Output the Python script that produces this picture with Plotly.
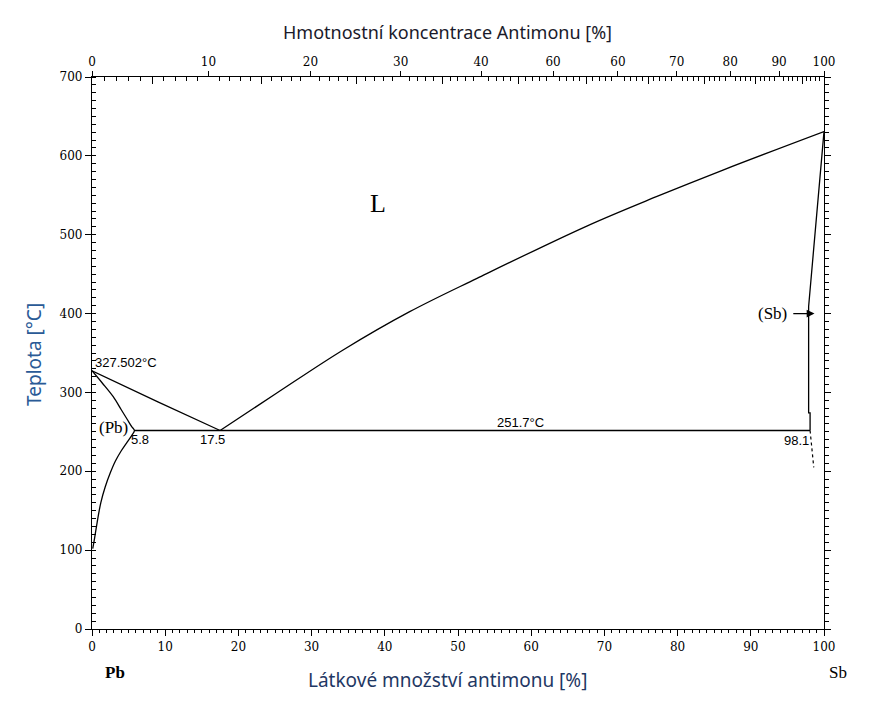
import plotly.graph_objects as go

# ---- data (x = mol % Sb, T = °C) ----
liq_left_x = [0, 9, 17.5]
liq_left_T = [327.502, 288, 251.7]

liq_right_x = [17.5, 25.2, 34.3, 43.4, 52.6, 67.6, 77.1, 86.2, 100]
liq_right_T = [251.7, 298.9, 353.8, 402.4, 444.7, 511, 548.2, 582, 630.755]

pb_solvus_x = [0, 1.4, 2.9, 4.0, 4.8, 5.4, 5.8, 5.4, 4.8, 4.0, 3.2, 2.5, 1.8, 1.2, 0.7, 0.35, 0.1]
pb_solvus_T = [327.502, 312, 294.6, 278, 266, 257, 251.7, 245, 237, 226, 213, 198, 180, 160, 135, 115, 102]

sb_solidus_x = [100, 97.9, 97.9, 98.1, 98.1]
sb_solidus_T = [630.755, 409, 274, 274, 251.7]

sb_solvus_x = [98.1, 98.6]
sb_solvus_T = [251.7, 205]

eutectic_x = [5.8, 98.1]
eutectic_T = [251.7, 251.7]

bottom_ticks = [0, 10, 20, 30, 40, 50, 60, 70, 80, 90, 100]
left_ticks = [0, 100, 200, 300, 400, 500, 600, 700]
top_wt = [0, 10, 20, 30, 40, 50, 60, 70, 80, 90, 100]
top_labels = ["0", "10", "20", "30", "40", "60", "60", "70", "80", "90", "100"]

M_SB, M_PB = 121.76, 207.2


def wt_to_mol(w):
    a = w / M_SB
    b = (100 - w) / M_PB
    return 100 * a / (a + b)


top_pos = [wt_to_mol(w) for w in top_wt]
top_minor = [wt_to_mol(w) for w in range(1, 100) if w % 5 != 0]
top_mid = [wt_to_mol(w) for w in range(5, 100, 10)]

SERIF = "DejaVu Serif"
line = dict(color="black", width=1.3)

fig = go.Figure()
fig.add_trace(go.Scatter(x=liq_left_x, y=liq_left_T, mode="lines", line=dict(**line, shape="spline"), hoverinfo="skip"))
fig.add_trace(go.Scatter(x=liq_right_x, y=liq_right_T, mode="lines", line=dict(**line, shape="spline", smoothing=1.0), hoverinfo="skip"))
fig.add_trace(go.Scatter(x=pb_solvus_x, y=pb_solvus_T, mode="lines", line=dict(**line, shape="spline", smoothing=1.0), hoverinfo="skip"))
fig.add_trace(go.Scatter(x=sb_solidus_x, y=sb_solidus_T, mode="lines", line=line, hoverinfo="skip"))
fig.add_trace(go.Scatter(x=sb_solvus_x, y=sb_solvus_T, mode="lines", line=dict(color="black", width=1.2, dash="dot"), hoverinfo="skip"))
fig.add_trace(go.Scatter(x=eutectic_x, y=eutectic_T, mode="lines", line=line, hoverinfo="skip"))
# empty traces to attach the extra axes
fig.add_trace(go.Scatter(x=[None], y=[None], xaxis="x2", yaxis="y2", hoverinfo="skip"))
fig.add_trace(go.Scatter(x=[None], y=[None], xaxis="x3", yaxis="y2", hoverinfo="skip"))

tickfont = dict(family=SERIF, size=12, color="black")
axcommon = dict(showgrid=False, zeroline=False, showline=True, linecolor="black", linewidth=1.2,
                tickcolor="black", tickwidth=1.2)

fig.update_layout(
    width=894, height=711,
    margin=dict(l=84, r=78, t=69, b=90),
    paper_bgcolor="white", plot_bgcolor="white",
    showlegend=False,
    xaxis=dict(range=[0, 100], tickmode="array", tickvals=bottom_ticks, ticks="outside", ticklen=6,
               tickfont=tickfont, minor=dict(dtick=1, tick0=0, ticks="outside", ticklen=3, tickcolor="black"),
               **axcommon),
    yaxis=dict(range=[0, 700], tickmode="array", tickvals=left_ticks, ticks="outside", ticklen=6,
               tickfont=tickfont, minor=dict(dtick=10, tick0=0, ticks="inside", ticklen=4, tickcolor="black"),
               **axcommon),
    xaxis2=dict(range=[0, 100], overlaying="x", side="top", anchor="y2", tickmode="array",
                tickvals=top_pos, ticktext=top_labels, ticks="outside", ticklen=5, tickfont=tickfont,
                minor=dict(tickmode="array", tickvals=top_minor, ticks="inside", ticklen=4, tickcolor="black"),
                **axcommon),
    xaxis3=dict(range=[0, 100], overlaying="x", side="top", anchor="y2", tickmode="array",
                tickvals=top_mid, showticklabels=False, ticks="inside", ticklen=7, **axcommon),
    yaxis2=dict(range=[0, 700], overlaying="y", side="right", anchor="x2", tickmode="array",
                tickvals=left_ticks, showticklabels=False, ticks="outside", ticklen=6,
                minor=dict(dtick=10, tick0=0, ticks="outside", ticklen=4, tickcolor="black"),
                **axcommon),
)

ann_small = dict(family="Liberation Sans", size=13, color="black")
ann_serif = dict(family="Liberation Serif", size=17, color="black")

annotations = [
    dict(x=0.2, y=338, text="327.502°C", xanchor="left", yanchor="middle", font=ann_small),
    dict(x=5.2, y=255, text="(Pb)", xanchor="right", yanchor="middle", font=ann_serif),
    dict(x=6.6, y=240, text="5.8", xanchor="center", yanchor="middle", font=ann_small),
    dict(x=16.5, y=240, text="17.5", xanchor="center", yanchor="middle", font=ann_small),
    dict(x=58.5, y=262.5, text="251.7°C", xanchor="center", yanchor="middle", font=ann_small),
    dict(x=96.3, y=239, text="98.1", xanchor="center", yanchor="middle", font=ann_small),
    dict(x=100.2, y=641, text="630.755°C", xanchor="right", yanchor="middle", font=ann_small),
    dict(x=93.0, y=400, text="(Sb)", xanchor="center", yanchor="middle", font=ann_serif),
    dict(x=39.1, y=540, text="L", xanchor="center", yanchor="middle",
         font=dict(family="Liberation Serif", size=26, color="black")),
    dict(x=98.7, y=400, ax=95.6, ay=400, axref="x", ayref="y", text="", showarrow=True,
         arrowhead=2, arrowsize=1.2, arrowwidth=1.3, arrowcolor="black"),
    # axis titles and end labels (paper coords)
    dict(xref="paper", yref="paper", x=(447 - 92) / 732, y=(629 - 32) / 552,
         text="Hmotnostní koncentrace Antimonu [%]",
         showarrow=False, xanchor="center", yanchor="middle",
         font=dict(family="Noto Sans", size=18, color="#1a1a2a")),
    dict(xref="paper", yref="paper", x=(447 - 92) / 732, y=(629 - 680) / 552,
         text="Látkové množství antimonu [%]",
         showarrow=False, xanchor="center", yanchor="middle",
         font=dict(family="Noto Sans", size=19, color="#1f3864")),
    dict(xref="paper", yref="paper", x=(34 - 92) / 732, y=(629 - 355) / 552, text="Teplota [°C]",
         showarrow=False, xanchor="center", yanchor="middle", textangle=-90,
         font=dict(family="Noto Sans", size=19, color="#2a5a96")),
    dict(xref="paper", yref="paper", x=(115 - 92) / 732, y=(629 - 672) / 552, text="<b>Pb</b>",
         showarrow=False, xanchor="center", yanchor="middle",
         font=dict(family="Liberation Serif", size=17, color="black")),
    dict(xref="paper", yref="paper", x=(838 - 92) / 732, y=(629 - 672) / 552, text="Sb",
         showarrow=False, xanchor="center", yanchor="middle",
         font=dict(family="Liberation Serif", size=17, color="black")),
]
for a in annotations:
    a.setdefault("showarrow", False)
    a.setdefault("xref", "x")
    a.setdefault("yref", "y")
fig.update_layout(annotations=annotations)

fig.write_html("out.html")
